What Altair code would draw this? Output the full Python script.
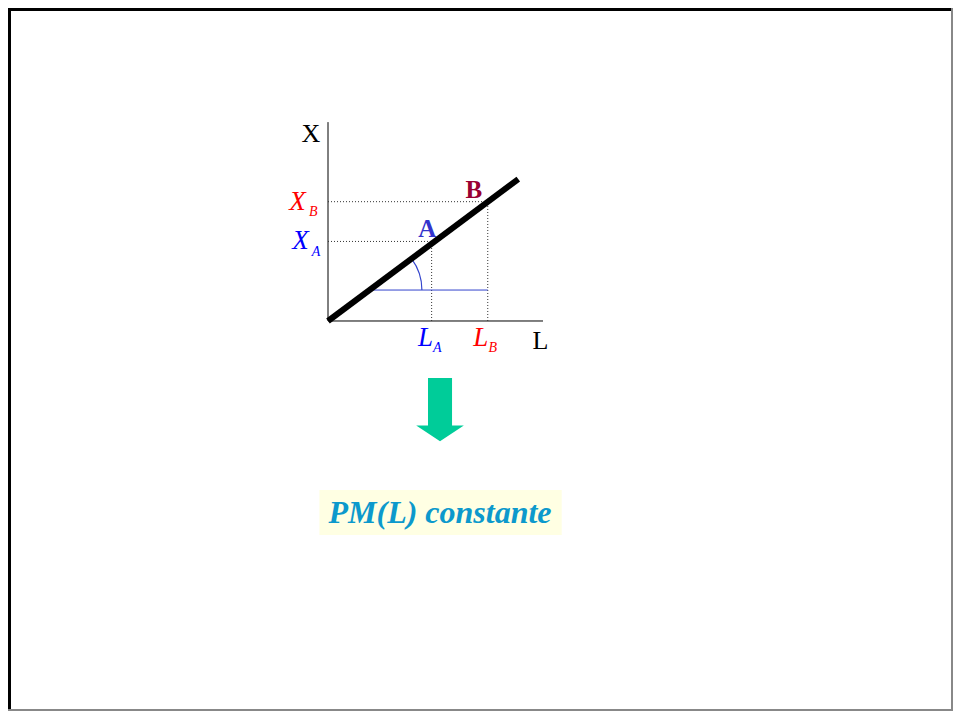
import math
import altair as alt
import pandas as pd

# ---- diagram values (L horizontal, X vertical) ----
axis_L_end = 10.0
axis_X_end = 9.25
line_L = [0.0, 8.85]
line_X = [0.0, 6.6]
point_names = ["A", "B"]
point_L = [4.82, 7.43]
point_X = [3.70, 5.55]
tick_colors = ["#0000ff", "#ff0000"]
point_label_colors = ["#3333cc", "#990033"]
base_L = [2.1, 7.43]      # blue horizontal segment
base_X = 1.44
arc_center = (1.93, 1.44)
arrow_pos = (5.21, -4.12)
box_L = [-0.40, 10.87]
box_X = [-7.86, -9.95]
caption = "PM(L) constante"
caption_pos = (5.21, -9.41)

W, H = 945, 703
xs = alt.Scale(domain=[-14.884, -14.884 + W / 21.5], nice=False, zero=False)
ys = alt.Scale(domain=[14.558 - H / 21.5, 14.558], nice=False, zero=False)
SERIF = "Liberation Serif"


def ex(f="x"):
    return alt.X(f, type="quantitative", scale=xs, axis=None)


def ey(f="y"):
    return alt.Y(f, type="quantitative", scale=ys, axis=None)


layers = []

# caption box
box_df = pd.DataFrame({"x": [box_L[0]], "x2": [box_L[1]], "y": [box_X[0]], "y2": [box_X[1]]})
layers.append(alt.Chart(box_df).mark_rect(fill="#ffffe3").encode(x=ex(), x2="x2", y=ey(), y2="y2"))

# axes
axes_df = pd.DataFrame({"x": [0, 0], "x2": [0, axis_L_end], "y": [0, 0], "y2": [axis_X_end, 0]})
layers.append(alt.Chart(axes_df).mark_rule(color="black", strokeWidth=1).encode(
    x=ex(), x2="x2", y=ey(), y2="y2"))

# dotted guides
rows = []
for L, X in zip(point_L, point_X):
    rows.append({"x": 0, "x2": L, "y": X, "y2": X})
    rows.append({"x": L, "x2": L, "y": 0, "y2": X})
layers.append(alt.Chart(pd.DataFrame(rows)).mark_rule(
    color="#333333", strokeWidth=1, strokeDash=[1, 2]).encode(x=ex(), x2="x2", y=ey(), y2="y2"))

# blue base segment
base_df = pd.DataFrame({"x": [base_L[0]], "x2": [base_L[1]], "y": [base_X], "y2": [base_X]})
layers.append(alt.Chart(base_df).mark_rule(color="#3344cc", strokeWidth=1).encode(
    x=ex(), x2="x2", y=ey(), y2="y2"))

# angle arc
ang = math.atan2(line_X[1] - line_X[0], line_L[1] - line_L[0])
arc_df = pd.DataFrame({"x": [arc_center[0]], "y": [arc_center[1]]})
layers.append(alt.Chart(arc_df).mark_arc(
    theta=math.pi / 2 - ang, theta2=math.pi / 2, radius=53, radius2=51.8, color="#3344cc"
).encode(x=ex(), y=ey()))

# thick production line
line_df = pd.DataFrame({"x": line_L, "y": line_X})
layers.append(alt.Chart(line_df).mark_line(color="black", strokeWidth=6).encode(x=ex(), y=ey()))

# axis titles
layers.append(alt.Chart(pd.DataFrame({"x": [0], "y": [axis_X_end], "t": ["X"]})).mark_text(
    font=SERIF, fontSize=26, color="black", align="center", baseline="alphabetic", dx=-17, dy=20
).encode(x=ex(), y=ey(), text="t:N"))
layers.append(alt.Chart(pd.DataFrame({"x": [axis_L_end], "y": [0], "t": ["L"]})).mark_text(
    font=SERIF, fontSize=26, color="black", align="center", baseline="alphabetic", dx=-2.5, dy=28
).encode(x=ex(), y=ey(), text="t:N"))

# tick-like labels with subscripts, and point labels
xm_dx = [-27.5, -30.5]
xs_dx = [-12, -14.7]
lm_dx = [-6, -7]
ls_dx = [5.6, 5.1]
pt_dx = [-4.4, -14]
for i, name in enumerate(point_names):
    c = tick_colors[i]
    # X_name on vertical axis
    d = pd.DataFrame({"x": [0], "y": [point_X[i]], "m": ["X"], "s": [name]})
    layers.append(alt.Chart(d).mark_text(
        font=SERIF, fontSize=27, fontStyle="italic", color=c, align="center",
        baseline="alphabetic", dx=xm_dx[i], dy=8).encode(x=ex(), y=ey(), text="m:N"))
    layers.append(alt.Chart(d).mark_text(
        font=SERIF, fontSize=14, fontStyle="italic", color=c, align="center",
        baseline="alphabetic", dx=xs_dx[i], dy=14.8).encode(x=ex(), y=ey(), text="s:N"))
    # L_name on horizontal axis
    d2 = pd.DataFrame({"x": [point_L[i]], "y": [0], "m": ["L"], "s": [name]})
    layers.append(alt.Chart(d2).mark_text(
        font=SERIF, fontSize=27, fontStyle="italic", color=c, align="center",
        baseline="alphabetic", dx=lm_dx[i], dy=25).encode(x=ex(), y=ey(), text="m:N"))
    layers.append(alt.Chart(d2).mark_text(
        font=SERIF, fontSize=14, fontStyle="italic", color=c, align="center",
        baseline="alphabetic", dx=ls_dx[i], dy=31).encode(x=ex(), y=ey(), text="s:N"))
    # bold point label
    d3 = pd.DataFrame({"x": [point_L[i]], "y": [point_X[i]], "t": [name]})
    layers.append(alt.Chart(d3).mark_text(
        font=SERIF, fontSize=25, fontWeight="bold", color=point_label_colors[i], align="center",
        baseline="alphabetic", dx=pt_dx[i], dy=-4).encode(x=ex(), y=ey(), text="t:N"))

# green arrow
arrow_path = ("M-0.379,-1L0.379,-1L0.379,0.505L0.751,0.505L0,1L-0.751,0.505L-0.379,0.505Z")
arrow_df = pd.DataFrame({"x": [arrow_pos[0]], "y": [arrow_pos[1]]})
layers.append(alt.Chart(arrow_df).mark_point(
    shape=arrow_path, size=4020, filled=True, fill="#00cc99", opacity=1, strokeWidth=0
).encode(x=ex(), y=ey()))

# caption text
cap_df = pd.DataFrame({"x": [caption_pos[0]], "y": [caption_pos[1]], "t": [caption]})
layers.append(alt.Chart(cap_df).mark_text(
    font=SERIF, fontSize=32, fontStyle="italic", fontWeight="bold", color="#0c99cc",
    align="center", baseline="alphabetic").encode(x=ex(), y=ey(), text="t:N"))

# slide frame
frame = [
    alt.Chart(pd.DataFrame({"a": [0]})).mark_rule(color="black", strokeWidth=3).encode(
        x=alt.value(0), x2=alt.value(W), y=alt.value(1.5)),
    alt.Chart(pd.DataFrame({"a": [0]})).mark_rule(color="black", strokeWidth=3).encode(
        x=alt.value(1.5), y=alt.value(0), y2=alt.value(H)),
    alt.Chart(pd.DataFrame({"a": [0]})).mark_rule(color="#888888", strokeWidth=2).encode(
        x=alt.value(W - 1), y=alt.value(0), y2=alt.value(H)),
    alt.Chart(pd.DataFrame({"a": [0]})).mark_rule(color="#888888", strokeWidth=2).encode(
        x=alt.value(0), x2=alt.value(W), y=alt.value(H - 1)),
]

chart = alt.layer(*layers, *frame).properties(
    width=W, height=H, padding=0, autosize=alt.AutoSizeParams(type="none"), background="white"
).configure_view(stroke=None)

chart.save("out.html", embed_options={"renderer": "svg", "actions": False})
